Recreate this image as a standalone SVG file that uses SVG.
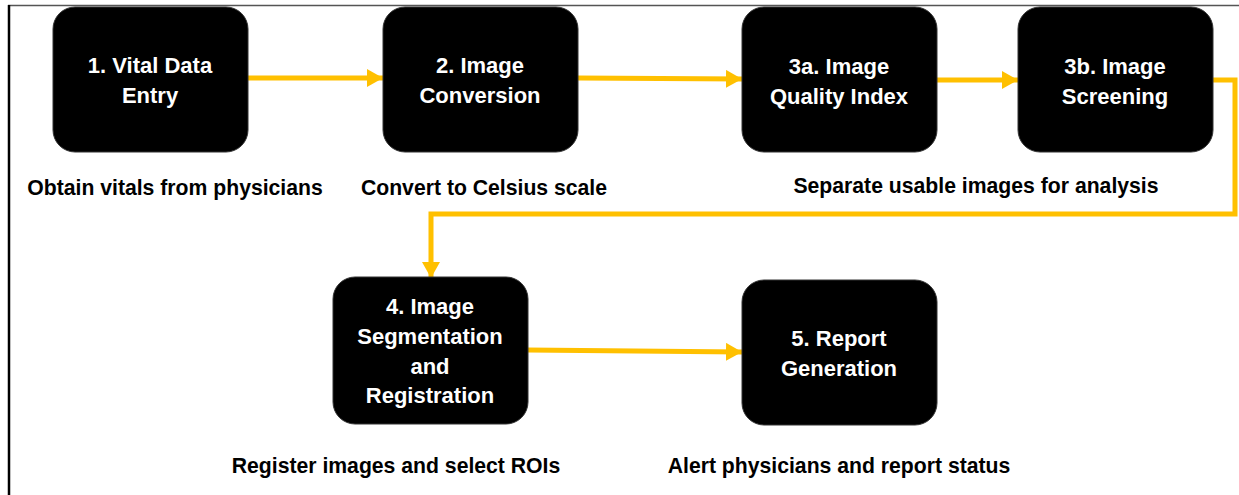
<svg xmlns="http://www.w3.org/2000/svg" width="1239" height="495" viewBox="0 0 1239 495">
<style>
.box{fill:#000;stroke:#333;stroke-width:1}
.bt{font-family:"Liberation Sans",Arial,sans-serif;font-weight:bold;font-size:22px;fill:#fff;text-anchor:middle}
.cap{font-family:"Liberation Sans",Arial,sans-serif;font-weight:bold;font-size:21.2px;fill:#000;text-anchor:middle}
.con{fill:none;stroke:#FFC000;stroke-width:5}
</style>
<defs>
<marker id="ah" viewBox="0 0 16 18" refX="16" refY="9" markerWidth="16" markerHeight="18" markerUnits="userSpaceOnUse" orient="auto">
<path d="M0,0 L16,9 L0,18 Z" fill="#FFC000"/>
</marker>
</defs>
<rect width="1239" height="495" fill="#fff"/>
<line x1="8" y1="5.5" x2="1239" y2="5.5" stroke="#555" stroke-width="1.5"/>
<line x1="9" y1="5" x2="9" y2="495" stroke="#000" stroke-width="2.5"/>
<g id="connectors">
<path class="con" d="M248,78 L383,78" marker-end="url(#ah)"/>
<path class="con" d="M578,78 L742,79" marker-end="url(#ah)"/>
<path class="con" d="M937,80 L1018,80" marker-end="url(#ah)"/>
<path class="con" d="M1213,80 L1235,80 L1235,214 L431,214 L431,278" marker-end="url(#ah)"/>
<path class="con" d="M528,350 L742,352" marker-end="url(#ah)"/>
</g>
<g id="n1"><rect class="box" x="53" y="7" width="195" height="145" rx="22"/>
<text class="bt" x="150" y="73">1. Vital Data</text><text class="bt" x="150" y="103">Entry</text></g>
<g id="n2"><rect class="box" x="383" y="7" width="195" height="145" rx="22"/>
<text class="bt" x="480" y="73">2. Image</text><text class="bt" x="480" y="103">Conversion</text></g>
<g id="n3a"><rect class="box" x="742" y="7" width="195" height="145" rx="22"/>
<text class="bt" x="839" y="74">3a. Image</text><text class="bt" x="839" y="104">Quality Index</text></g>
<g id="n3b"><rect class="box" x="1018" y="7" width="195" height="145" rx="22"/>
<text class="bt" x="1115" y="74">3b. Image</text><text class="bt" x="1115" y="104">Screening</text></g>
<g id="n4"><rect class="box" x="333" y="277" width="195" height="147" rx="22"/>
<text class="bt" x="430" y="314">4. Image</text><text class="bt" x="430" y="344">Segmentation</text><text class="bt" x="430" y="374">and</text><text class="bt" x="430" y="403">Registration</text></g>
<g id="n5"><rect class="box" x="742" y="280" width="195" height="145" rx="22"/>
<text class="bt" x="839" y="346">5. Report</text><text class="bt" x="839" y="376">Generation</text></g>
<g id="captions">
<text class="cap" x="175" y="195">Obtain vitals from physicians</text>
<text class="cap" x="484" y="195">Convert to Celsius scale</text>
<text class="cap" x="976" y="193">Separate usable images for analysis</text>
<text class="cap" x="396" y="473">Register images and select ROIs</text>
<text class="cap" x="839" y="473">Alert physicians and report status</text>
</g>
</svg>
